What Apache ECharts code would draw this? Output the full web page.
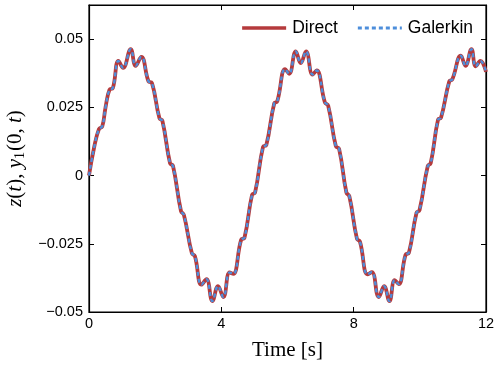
<!DOCTYPE html>
<html>
<head>
<meta charset="utf-8">
<script src="https://cdn.jsdelivr.net/npm/echarts@6/dist/echarts.min.js"></script>
<style>html,body{margin:0;padding:0;background:#fff}#c{width:495px;height:366px}</style>
</head>
<body>
<div id="c"></div>
<script>
// Data
var times = [0.00,0.15,0.30,0.40,0.50,0.62,0.72,0.89,1.03,1.26,1.41,1.58,1.80,1.90,2.13,2.22,2.45,2.54,2.78,2.87,3.11,3.20,3.40,3.55,3.73,3.90,4.06,4.25,4.36,4.60,4.70,4.93,5.02,5.26,5.36,5.60,5.69,5.93,6.05,6.25,6.40,6.56,6.76,6.88,7.13,7.23,7.46,7.56,7.78,7.87,8.10,8.19,8.42,8.55,8.76,8.92,9.08,9.24,9.36,9.57,9.67,9.90,9.99,10.24,10.33,10.55,10.64,10.89,10.98,11.24,11.38,11.56,11.69,11.83,12.00];
var direct = [0.0000,0.0100,0.0170,0.0180,0.0250,0.0315,0.0320,0.0420,0.0395,0.0463,0.0402,0.0435,0.0345,0.0340,0.0210,0.0200,0.0045,0.0035,-0.0130,-0.0145,-0.0285,-0.0295,-0.0400,-0.0380,-0.0460,-0.0405,-0.0445,-0.0355,-0.0360,-0.0235,-0.0228,-0.0070,-0.0062,0.0105,0.0112,0.0265,0.0272,0.0390,0.0373,0.0455,0.0412,0.0455,0.0370,0.0385,0.0268,0.0256,0.0108,0.0098,-0.0062,-0.0076,-0.0232,-0.0242,-0.0362,-0.0354,-0.0445,-0.0405,-0.0460,-0.0383,-0.0398,-0.0290,-0.0283,-0.0136,-0.0127,0.0035,0.0046,0.0205,0.0212,0.0345,0.0352,0.0439,0.0402,0.0463,0.0400,0.0420,0.0380];
var galerkin = direct.slice();
var xTicks = [0, 4, 8, 12];
var yTicks = [-0.05, -0.025, 0, 0.025, 0.05];
var seriesNames = ['Direct', 'Galerkin'];

function pairs(xs, ys){ return xs.map(function(x,i){return [x, ys[i]];}); }
function fmtY(v){
  var best = null;
  yTicks.forEach(function(t){ if (Math.abs(t - v) < 1e-9) best = t; });
  if (best === null) return '';
  if (best === 0) return '0';
  return (best < 0 ? '\u2212' : '') + String(Math.abs(best));
}
function fmtX(v){
  var best = null;
  xTicks.forEach(function(t){ if (Math.abs(t - v) < 1e-9) best = t; });
  return best === null ? '' : String(best);
}

var RED = '#B53A3C', BLUE = '#4D8EDB';
var solidIcon = 'path://M0,0 L44,0 L44,3.5 L0,3.5 Z';
var dashIcon = 'path://M0,0h4v3h-4z M7,0h4v3h-4z M14,0h4v3h-4z M21,0h4v3h-4z M28,0h4v3h-4z M35,0h4v3h-4z M42,0h2v3h-2z';

var chart = echarts.init(document.getElementById('c'), null, {renderer: 'canvas'});
var sans = 'Liberation Sans, Arial, Helvetica, sans-serif';
var serif = 'Liberation Serif, DejaVu Serif, serif';
var axLine = {show: true, onZero: false, lineStyle: {color: '#000', width: 1.2}};
var axTick = {show: true, inside: true, length: 5, lineStyle: {color: '#000'}};
chart.setOption({
  animation: false,
  backgroundColor: '#fff',
  grid: {left: 89, right: 9, top: 5, bottom: 54, show: true, borderColor: '#000', borderWidth: 1.2, backgroundColor: 'transparent', outerBoundsMode: 'none', containLabel: false},
  legend: {
    data: [
      {name: seriesNames[0], icon: solidIcon, itemStyle: {color: RED}},
      {name: seriesNames[1], icon: dashIcon, itemStyle: {color: BLUE}}
    ],
    right: 17, top: 14,
    itemWidth: 44, itemHeight: 3.5, itemGap: 20,
    textStyle: {fontFamily: sans, fontSize: 17.5, color: '#000', padding: [0, 0, 0, 1]}
  },
  xAxis: [{
    type: 'value', min: 0, max: 12, interval: 4, position: 'bottom',
    axisLine: axLine, axisTick: axTick,
    axisLabel: {fontFamily: sans, fontSize: 14.5, color: '#000', margin: 4, formatter: fmtX},
    splitLine: {show: false},
    name: 'Time [s]', nameLocation: 'middle', nameGap: 28,
    nameTextStyle: {fontFamily: serif, fontSize: 21, color: '#000'}
  },{
    type: 'value', min: 0, max: 12, interval: 4, position: 'top',
    axisLine: axLine, axisTick: axTick,
    axisLabel: {show: false}, splitLine: {show: false}
  }],
  yAxis: [{
    type: 'value', min: -0.05, max: 0.0625, interval: 0.025, position: 'left',
    axisLine: axLine, axisTick: axTick,
    axisLabel: {fontFamily: sans, fontSize: 14.5, color: '#000', margin: 6, formatter: fmtY, showMaxLabel: false},
    splitLine: {show: false},
    name: '{i|z}{n|(}{i|t}{n|), }{i|y}{s|1}{n|(0, }{i|t}{n|)}',
    nameLocation: 'middle', nameRotate: 90, nameGap: 55,
    nameTextStyle: {
      color: '#000',
      rich: {
        i: {fontFamily: serif, fontStyle: 'italic', fontSize: 21, color: '#000'},
        n: {fontFamily: serif, fontSize: 21, color: '#000'},
        s: {fontFamily: serif, fontSize: 14, color: '#000', padding: [9, 1, 0, 0]}
      }
    }
  },{
    type: 'value', min: -0.05, max: 0.0625, interval: 0.025, position: 'right',
    axisLine: axLine, axisTick: axTick,
    axisLabel: {show: false}, splitLine: {show: false}
  }],
  series: [{
    name: 'Direct', type: 'line', data: pairs(times, direct),
    smooth: 0.45, symbol: 'none',
    lineStyle: {color: RED, width: 3.8},
    itemStyle: {color: RED}
  },{
    name: 'Galerkin', type: 'line', data: pairs(times, galerkin),
    smooth: 0.45, symbol: 'none',
    lineStyle: {color: BLUE, width: 2.4, type: [4, 3]},
    itemStyle: {color: BLUE}
  }]
});
</script>
</body>
</html>
